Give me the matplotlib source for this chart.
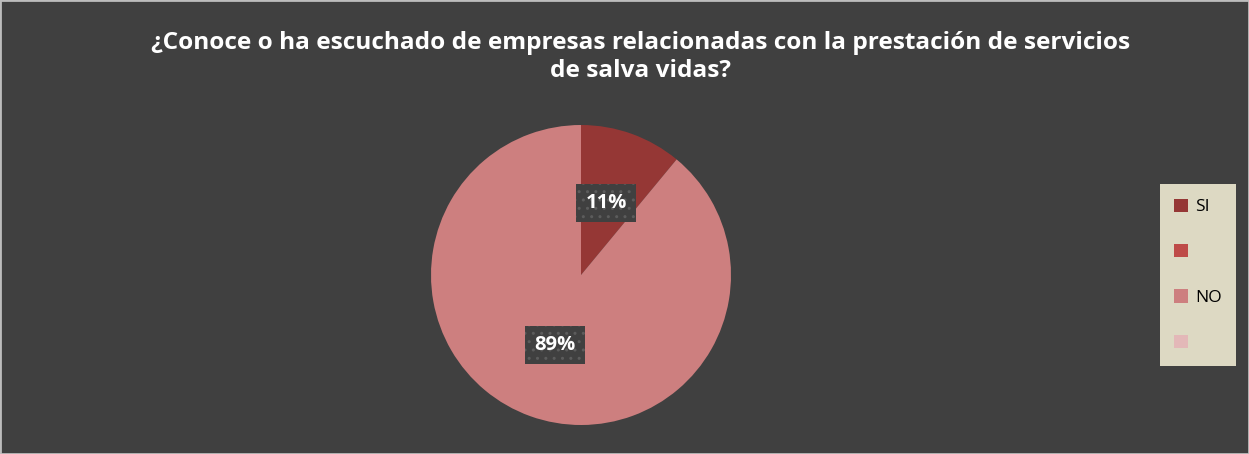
import matplotlib
matplotlib.use("Agg")
import matplotlib.pyplot as plt
from matplotlib.patches import Patch, Rectangle

title = "¿Conoce o ha escuchado de empresas relacionadas con la prestación de servicios\nde salva vidas?"
categories = ["SI", "", "NO", ""]
values = [11, 0, 89, 0]
labels_text = ["11%", None, "89%", None]
colors = ["#953735", "#BE4B48", "#CD7F7F", "#E3B8B8"]

W, H = 1249, 454
fig = plt.figure(figsize=(W / 100, H / 100), dpi=100)
fig.patch.set_facecolor("#404040")
fig.patches.append(Rectangle((0, 0), 1, 1, transform=fig.transFigure, fill=False,
                             edgecolor="#BDBDBD", linewidth=2))

fig.text(641 / W, 1 - 57 / H, title, ha="center", va="center", color="white",
         fontsize=17.6, fontweight="bold", family="Open Sans", linespacing=1.25)

cx, cy, r = 581, 275, 150
ax = fig.add_axes([(cx - r) / W, (H - cy - r) / H, 2 * r / W, 2 * r / H])
ax.set_facecolor("none")
wedges, _ = ax.pie(values, colors=colors, startangle=90, counterclock=False,
                   radius=1, wedgeprops=dict(linewidth=0))
ax.set_xlim(-1, 1)
ax.set_ylim(-1, 1)
ax.set_aspect("equal")
ax.axis("off")

label_pos = [(606, 203), None, (555, 345), None]
for txt, pos in zip(labels_text, label_pos):
    if txt is None:
        continue
    x = (pos[0] - cx) / r
    y = -(pos[1] - cy) / r
    ax.text(x, y, txt, ha="center", va="center", color="white", fontsize=14.5,
            fontweight="bold", family="Open Sans",
            bbox=dict(boxstyle="square,pad=0.45", facecolor="#404040",
                      edgecolor="#5C5C5C", hatch="..", linewidth=0))

handles = [Patch(facecolor=c, edgecolor="none") for c in colors]
leg = fig.legend(handles, categories, loc="center", bbox_to_anchor=(1198 / W, 1 - 275 / H),
                 frameon=True, framealpha=1, fontsize=12.5, labelspacing=1.65,
                 handlelength=0.8, handleheight=0.8, handletextpad=0.4,
                 borderpad=0.85, borderaxespad=0, fancybox=False)
leg.get_frame().set_facecolor("#DDD9C3")
leg.get_frame().set_edgecolor("none")
for t in leg.get_texts():
    t.set_color("black")
    t.set_family("Open Sans")

fig.savefig("out.png", dpi=100, facecolor=fig.get_facecolor())
